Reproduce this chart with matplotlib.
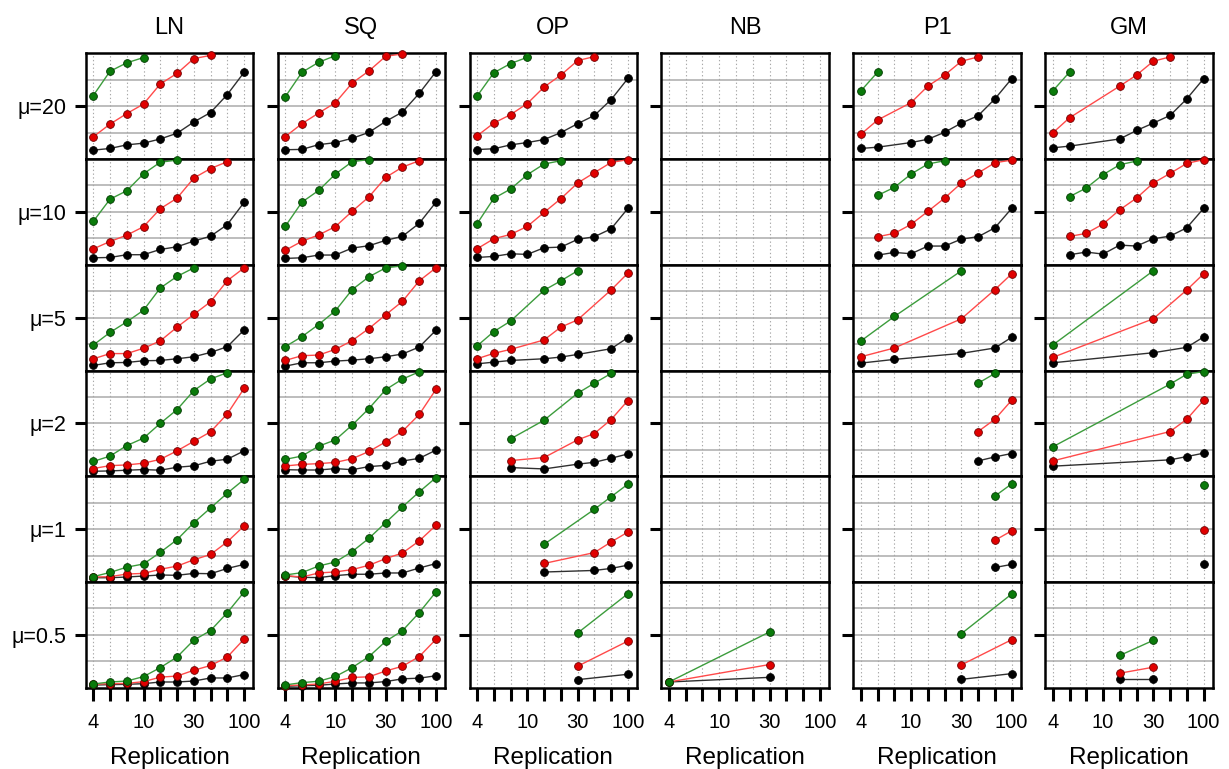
import numpy as np
import matplotlib.pyplot as plt

plt.rcParams['font.family'] = ['Liberation Sans', 'DejaVu Sans']

N = None
methods = ["LN", "SQ", "OP", "NB", "P1", "GM"]
row_labels = ["μ=20", "μ=10", "μ=5", "μ=2", "μ=1", "μ=0.5"]
n_levels = 10
tick_labels = ["4", "", "", "10", "", "", "30", "", "", "100"]

# values are read as fraction of panel height (0 = bottom, 1 = top)
LN_G = [
    [0.60, 0.83, 0.91, 0.96, N, N, N, N, N, N],
    [0.41, 0.62, 0.70, 0.86, 0.97, 0.99, N, N, N, N],
    [0.24, 0.36, 0.46, 0.57, 0.78, 0.89, 0.97, N, N, N],
    [0.14, 0.19, 0.29, 0.36, 0.50, 0.63, 0.81, 0.92, 0.98, N],
    [0.05, 0.09, 0.14, 0.17, 0.28, 0.40, 0.56, 0.70, 0.84, 0.97],
    [0.035, 0.054, 0.063, 0.105, 0.19, 0.29, 0.45, 0.54, 0.71, 0.905],
]
LN_R = [
    [0.21, 0.33, 0.43, 0.52, 0.71, 0.81, 0.95, 0.98, N, N],
    [0.15, 0.22, 0.28, 0.36, 0.53, 0.63, 0.82, 0.91, 0.975, N],
    [0.11, 0.16, 0.16, 0.21, 0.28, 0.41, 0.53, 0.65, 0.85, 0.97],
    [0.073, 0.10, 0.107, 0.123, 0.16, 0.24, 0.33, 0.42, 0.59, 0.83],
    [0.047, 0.05, 0.075, 0.081, 0.12, 0.15, 0.21, 0.26, 0.38, 0.53],
    [0.032, 0.038, 0.041, 0.057, 0.10, 0.11, 0.165, 0.21, 0.29, 0.46],
]
LN_K = [
    [0.084, 0.10, 0.134, 0.15, 0.19, 0.244, 0.35, 0.44, 0.61, 0.82],
    [0.066, 0.069, 0.095, 0.095, 0.145, 0.17, 0.224, 0.27, 0.38, 0.59],
    [0.048, 0.073, 0.076, 0.092, 0.095, 0.111, 0.13, 0.171, 0.225, 0.384],
    [0.047, 0.05, 0.057, 0.063, 0.057, 0.085, 0.098, 0.142, 0.161, 0.24],
    [0.04, 0.04, 0.047, 0.056, 0.066, 0.063, 0.081, 0.078, 0.128, 0.166],
    [0.025, 0.029, 0.032, 0.038, 0.054, 0.054, 0.063, 0.092, 0.092, 0.124],
]

SQ_G = [
    [0.587, 0.82, 0.915, 0.978, N, N, N, N, N, N],
    [0.362, 0.592, 0.703, 0.858, 0.975, 0.995, N, N, N, N],
    [0.225, 0.32, 0.435, 0.565, 0.765, 0.886, 0.971, 0.99, N, N],
    [0.159, 0.191, 0.284, 0.344, 0.484, 0.64, 0.819, 0.919, 0.9875, N],
    [0.066, 0.088, 0.151, 0.189, 0.287, 0.413, 0.562, 0.71, 0.852, 0.987],
    [0.026, 0.048, 0.061, 0.106, 0.19, 0.294, 0.439, 0.539, 0.71, 0.906],
]
SQ_R = [
    [0.211, 0.334, 0.435, 0.533, 0.719, 0.833, 0.972, 0.994, N, N],
    [0.136, 0.222, 0.282, 0.361, 0.506, 0.642, 0.826, 0.924, 0.984, N],
    [0.095, 0.14, 0.146, 0.2, 0.283, 0.397, 0.527, 0.654, 0.848, 0.971],
    [0.097, 0.112, 0.119, 0.131, 0.166, 0.234, 0.325, 0.425, 0.584, 0.822],
    [0.06, 0.047, 0.085, 0.095, 0.117, 0.158, 0.221, 0.274, 0.388, 0.536],
    [0.019, 0.026, 0.035, 0.061, 0.097, 0.103, 0.158, 0.203, 0.294, 0.458],
]
SQ_K = [
    [0.088, 0.091, 0.136, 0.155, 0.196, 0.252, 0.356, 0.445, 0.621, 0.826],
    [0.06, 0.066, 0.092, 0.092, 0.158, 0.18, 0.231, 0.269, 0.392, 0.592],
    [0.041, 0.073, 0.073, 0.089, 0.098, 0.111, 0.13, 0.156, 0.222, 0.381],
    [0.062, 0.059, 0.059, 0.072, 0.062, 0.091, 0.103, 0.144, 0.169, 0.247],
    [0.057, 0.044, 0.041, 0.06, 0.073, 0.073, 0.085, 0.085, 0.132, 0.174],
    [0.013, 0.019, 0.023, 0.035, 0.045, 0.045, 0.058, 0.084, 0.09, 0.113],
]

OP_G = [
    [0.594, 0.816, 0.903, 0.962, N, N, N, N, N, N],
    [0.388, 0.628, 0.716, 0.852, 0.953, 0.984, N, N, N, N],
    [0.232, 0.368, 0.467, N, 0.759, 0.848, 0.943, N, N, N],
    [N, N, 0.353, N, 0.53, N, 0.785, 0.88, 0.972, N],
    [N, N, N, N, 0.356, N, N, 0.687, 0.806, 0.925],
    [N, N, N, N, N, N, 0.517, N, N, 0.889],
]
OP_R = [
    [0.219, 0.34, 0.42, 0.525, 0.681, 0.794, 0.931, 0.969, N, N],
    [0.151, 0.246, 0.287, 0.363, 0.495, 0.625, 0.773, 0.871, 0.968, 0.994],
    [0.111, 0.162, 0.2, N, 0.289, 0.41, 0.479, N, 0.762, 0.921],
    [N, N, 0.148, N, 0.177, N, 0.344, 0.404, 0.536, 0.716],
    [N, N, N, N, 0.175, N, N, 0.278, 0.378, 0.472],
    [N, N, N, N, N, N, 0.203, N, N, 0.441],
]
OP_K = [
    [0.09, 0.097, 0.134, 0.156, 0.184, 0.25, 0.334, 0.412, 0.562, 0.762],
    [0.069, 0.079, 0.104, 0.098, 0.161, 0.167, 0.24, 0.265, 0.34, 0.533],
    [0.063, 0.079, 0.095, N, 0.111, 0.127, 0.152, N, 0.206, 0.311],
    [N, N, 0.082, N, 0.069, N, 0.114, 0.132, 0.17, 0.211],
    [N, N, N, N, 0.094, N, N, 0.109, 0.128, 0.159],
    [N, N, N, N, N, N, 0.076, N, N, 0.127],
]

EMPTY = [N] * 10
NB_G = [EMPTY] * 5 + [[0.054, N, N, N, N, N, 0.527, N, N, N]]
NB_R = [EMPTY] * 5 + [[0.054, N, N, N, N, N, 0.219, N, N, N]]
NB_K = [EMPTY] * 5 + [[0.054, N, N, N, N, N, 0.098, N, N, N]]

P1_G = [
    [0.644, 0.822, N, N, N, N, N, N, N, N],
    [N, 0.656, 0.732, 0.858, 0.953, 0.984, N, N, N, N],
    [0.279, N, 0.511, N, N, N, 0.943, N, N, N],
    [N, N, N, N, N, N, N, 0.88, 0.972, N],
    [N, N, N, N, N, N, N, N, 0.812, 0.928],
    [N, N, N, N, N, N, 0.511, N, N, 0.886],
]
P1_R = [
    [0.234, 0.369, N, 0.534, 0.69, 0.794, 0.925, 0.966, N, N],
    [N, 0.265, 0.297, 0.382, 0.505, 0.631, 0.773, 0.868, 0.965, 0.99],
    [0.13, N, 0.213, N, N, N, 0.489, N, 0.765, 0.914],
    [N, N, N, N, N, N, N, 0.423, 0.539, 0.719],
    [N, N, N, N, N, N, N, N, 0.394, 0.484],
    [N, N, N, N, N, N, 0.216, N, N, 0.454],
]
P1_K = [
    [0.1, 0.112, N, 0.156, 0.187, 0.253, 0.34, 0.41, 0.569, 0.76],
    [N, 0.091, 0.117, 0.104, 0.177, 0.177, 0.243, 0.265, 0.35, 0.533],
    [0.07, N, 0.105, N, N, N, 0.162, N, 0.213, 0.314],
    [N, N, N, N, N, N, N, 0.145, 0.183, 0.215],
    [N, N, N, N, N, N, N, N, 0.137, 0.166],
    [N, N, N, N, N, N, 0.079, N, N, 0.133],
]

GM_G = [
    [0.644, 0.822, N, N, N, N, N, N, N, N],
    [N, 0.644, 0.726, 0.852, 0.946, 0.981, N, N, N, N],
    [0.241, N, N, N, N, N, 0.943, N, N, N],
    [0.278, N, N, N, N, N, N, 0.871, 0.965, 0.99],
    [N, N, N, N, N, N, N, N, N, 0.919],
    [N, N, N, N, 0.305, N, 0.448, N, N, N],
]
GM_R = [
    [0.247, 0.39, N, N, 0.69, 0.794, 0.925, 0.966, N, N],
    [N, 0.268, 0.297, 0.385, 0.52, 0.631, 0.773, 0.864, 0.959, 0.994],
    [0.124, N, N, N, N, N, 0.489, N, 0.762, 0.914],
    [0.145, N, N, N, N, N, N, 0.423, 0.539, 0.719],
    [N, N, N, N, N, N, N, N, N, 0.491],
    [N, N, N, N, 0.137, N, 0.194, N, N, N],
]
GM_K = [
    [0.106, 0.122, N, N, 0.19, 0.27, 0.34, 0.412, 0.569, 0.76],
    [N, 0.095, 0.12, 0.101, 0.186, 0.177, 0.246, 0.271, 0.35, 0.533],
    [0.073, N, N, N, N, N, 0.168, N, 0.219, 0.317],
    [0.095, N, N, N, N, N, N, 0.155, 0.186, 0.218],
    [N, N, N, N, N, N, N, N, N, 0.169],
    [N, N, N, N, 0.079, N, 0.079, N, N, N],
]

data = {
    "LN": (LN_K, LN_R, LN_G),
    "SQ": (SQ_K, SQ_R, SQ_G),
    "OP": (OP_K, OP_R, OP_G),
    "NB": (NB_K, NB_R, NB_G),
    "P1": (P1_K, P1_R, P1_G),
    "GM": (GM_K, GM_R, GM_G),
}

# (line colour, marker face, marker edge) for black, red, green
styles = [
    ("#303030", "#000000", "#000000"),
    ("#ff4a4a", "#e00000", "#700000"),
    ("#3c9c3c", "#0a7a0a", "#003a00"),
]

fig = plt.figure(figsize=(12.29, 7.69), dpi=100)
gs = fig.add_gridspec(6, 6, left=85.7 / 1229, right=1212.8 / 1229,
                      top=1 - 53.3 / 769, bottom=1 - 687.7 / 769,
                      hspace=0, wspace=0.145)

x = np.arange(n_levels)
for j, m in enumerate(methods):
    for i in range(6):
        ax = fig.add_subplot(gs[i, j])
        for yl in (0.25, 0.5, 0.75):
            ax.axhline(yl, color="#bdbdbd", lw=1.4, zorder=0)
        for xv in x:
            ax.axvline(xv, color="#a8a8a8", lw=0.8, ls=(0, (1.2, 2.2)), zorder=0)

        for series, (lc, fc, ec) in zip(data[m], styles):
            y = np.array(series[i], dtype=float)
            ok = ~np.isnan(y)
            if ok.sum() == 0:
                continue
            ax.plot(x[ok], y[ok], color=lc, lw=1.0, marker="o", ms=5.6,
                    mfc=fc, mec=ec, mew=0.6, clip_on=False, zorder=3)

        ax.set_xlim(-0.45, 9.55)
        ax.set_ylim(0, 1)
        for s in ax.spines.values():
            s.set_linewidth(1.8)

        ax.set_yticks([0.5])
        ax.tick_params(axis="y", direction="out", length=8, width=2.2, pad=6)
        if j == 0:
            ax.set_yticklabels([row_labels[i]], fontsize=15.5)
        else:
            ax.set_yticklabels([])

        ax.set_xticks(x)
        if i == 5:
            ax.set_xticklabels(tick_labels, fontsize=14.5)
            ax.tick_params(axis="x", direction="out", length=9, width=2.2, pad=9)
            ax.set_xlabel("Replication", fontsize=17.5, labelpad=11)
        else:
            ax.tick_params(axis="x", length=0, labelbottom=False)

        if i == 0:
            ax.set_title(m, fontsize=17, pad=14)

fig.savefig("out.png", dpi=100)
